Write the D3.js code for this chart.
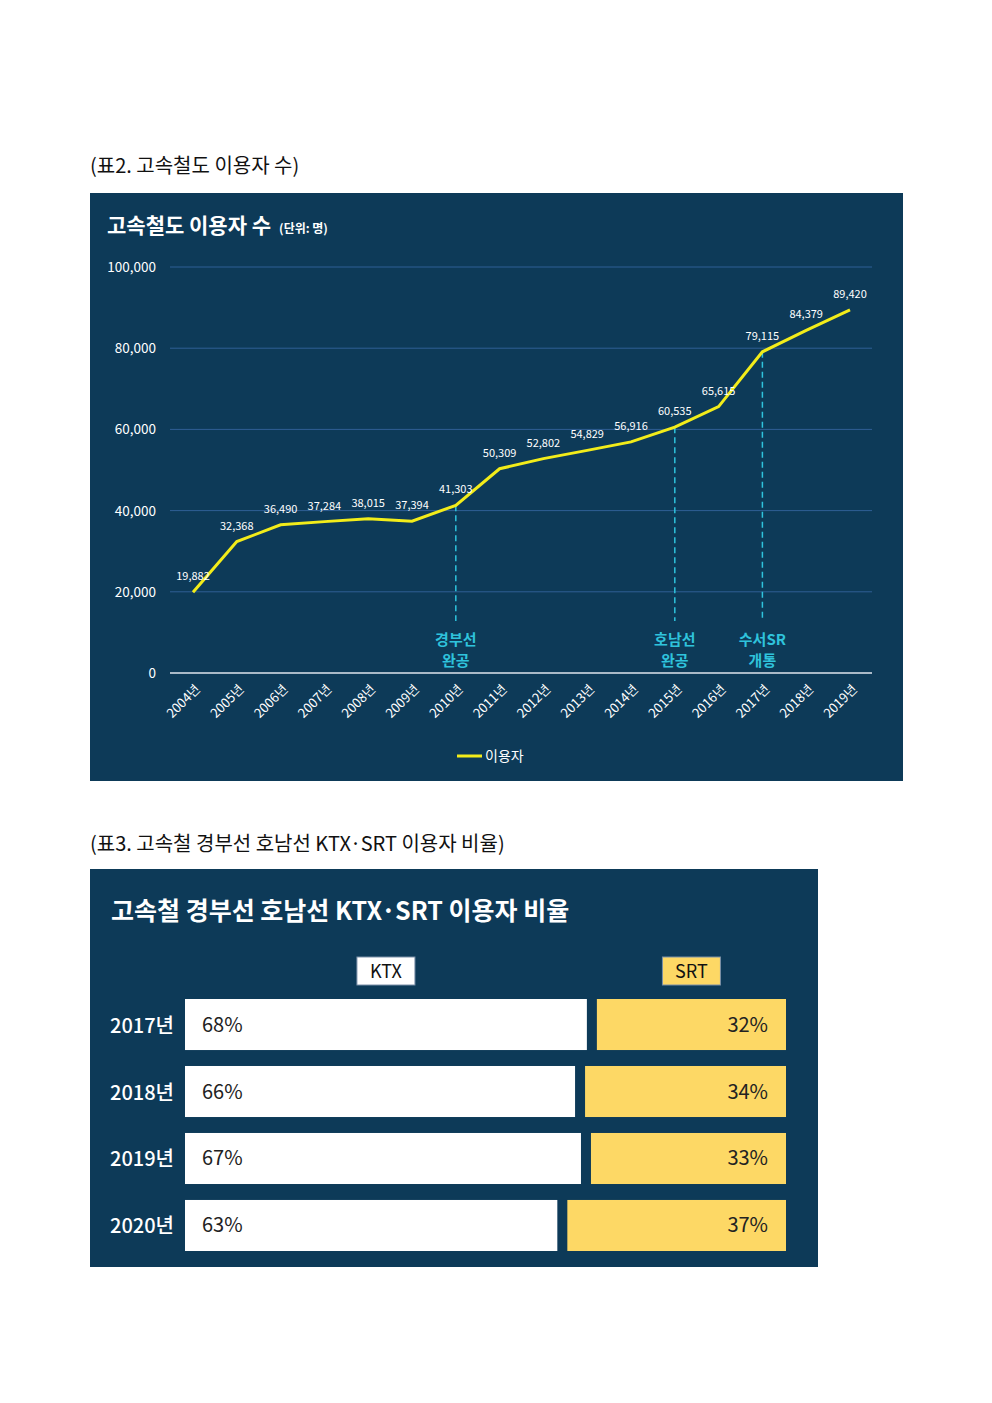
<!DOCTYPE html>
<html><head><meta charset="utf-8">
<script src="https://cdn.jsdelivr.net/npm/d3@7"></script>
<style>body{margin:0;background:#fff}svg{display:block}</style></head>
<body><svg id="c" width="992" height="1403"></svg>
<script>
const years=["2004년","2005년","2006년","2007년","2008년","2009년","2010년","2011년","2012년","2013년","2014년","2015년","2016년","2017년","2018년","2019년"];
const users=[19882,32368,36490,37284,38015,37394,41303,50309,52802,54829,56916,60535,65615,79115,84379,89420];
const yTicks=[0,20000,40000,60000,80000,100000];
const events=[{i:6,t:["경부선","완공"]},{i:11,t:["호남선","완공"]},{i:13,t:["수서SR","개통"]}];
const shareYears=["2017년","2018년","2019년","2020년"];
const ktx=[68,66,67,63];
const srt=[32,34,33,37];

const svg=d3.select("#c");
const F="'Noto Sans CJK KR','Noto Sans',sans-serif";
const BG="#0d3a58";
svg.append("text").attr("x",90).attr("y",173).attr("font-family","'Noto Sans CJK KR'").attr("font-size",20).attr("fill","#111").text("(표2. 고속철도 이용자 수)");
svg.append("rect").attr("x",90).attr("y",193).attr("width",813).attr("height",588).attr("fill",BG);
const t1=svg.append("text").attr("x",107).attr("y",233).attr("font-family",F).attr("font-weight",700).attr("font-size",21).attr("fill","#fff");
t1.append("tspan").text("고속철도 이용자 수");
t1.append("tspan").attr("font-size",12).attr("dx",8).text("(단위: 명)");

const x=d3.scalePoint().domain(years).range([193,850]);
const y=d3.scaleLinear().domain([0,100000]).range([673,267]);
const g=svg.append("g");
yTicks.forEach(v=>{
  g.append("line").attr("x1",170).attr("x2",872).attr("y1",y(v)).attr("y2",y(v)).attr("stroke",v===0?"#dfe6ee":"#2f5f95").attr("stroke-width",v===0?1.5:1);
  g.append("text").attr("x",156).attr("y",y(v)+5).attr("text-anchor","end").attr("font-family",F).attr("font-size",13.5).attr("fill","#fff").text(d3.format(",")(v));
});
years.forEach(d=>{
  g.append("text").attr("transform",`translate(${x(d)+8},${690}) rotate(-45)`).attr("text-anchor","end").attr("font-family",F).attr("font-size",13).attr("fill","#fff").text(d);
});
events.forEach(e=>{
  const xx=x(years[e.i]);
  g.append("line").attr("x1",xx).attr("x2",xx).attr("y1",y(users[e.i])).attr("y2",621).attr("stroke","#2fc3dc").attr("stroke-width",1.5).attr("stroke-dasharray","6,4");
  e.t.forEach((s,k)=>g.append("text").attr("x",xx).attr("y",645+k*21).attr("text-anchor","middle").attr("font-family",F).attr("font-weight",700).attr("font-size",15).attr("fill","#2fc3dc").text(s));
});
g.append("path").datum(users).attr("d",d3.line().x((d,i)=>x(years[i])).y(d=>y(d))).attr("fill","none").attr("stroke","#f2ec1a").attr("stroke-width",3);
users.forEach((v,i)=>{
  g.append("text").attr("x",x(years[i])).attr("y",y(v)-12).attr("text-anchor","middle").attr("font-family",F).attr("font-size",11).attr("fill","#fff").text(d3.format(",")(v));
});
g.append("line").attr("x1",457).attr("x2",482).attr("y1",756).attr("y2",756).attr("stroke","#f2ec1a").attr("stroke-width",3);
g.append("text").attr("x",485).attr("y",761).attr("font-family",F).attr("font-size",14).attr("fill","#fff").text("이용자");

// chart 2
svg.append("text").attr("x",90).attr("y",851).attr("font-family","'Noto Sans CJK KR'").attr("font-size",20).attr("fill","#111").text("(표3. 고속철 경부선 호남선 KTX·SRT 이용자 비율)");
svg.append("rect").attr("x",90).attr("y",869).attr("width",728).attr("height",398).attr("fill",BG);
svg.append("text").attr("x",111).attr("y",920).attr("font-family",F).attr("font-weight",700).attr("font-size",25).attr("fill","#fff").text("고속철 경부선 호남선 KTX·SRT 이용자 비율");
const yb=d3.scaleBand().domain(shareYears).range([999,1251]).paddingInner(15/63).paddingOuter(0);
const w=d3.scaleLinear().domain([0,100]).range([0,591]);
const x0=185,gap=10;
[["KTX",x0+w(ktx[0])/2,"#fff"],["SRT",x0+w(ktx[0])+gap+w(srt[0])/2,"#fdd865"]].forEach(([t,cx,c])=>{
  svg.append("rect").attr("x",cx-29).attr("y",957).attr("width",58).attr("height",28).attr("fill",c).attr("stroke","#7a8fa8");
  svg.append("text").attr("x",cx).attr("y",978).attr("text-anchor","middle").attr("font-family",F).attr("font-size",18).attr("fill","#111").text(t);
});
shareYears.forEach((yr,i)=>{
  const yy=yb(yr),h=yb.bandwidth();
  svg.append("text").attr("x",174).attr("y",yy+h/2+8).attr("text-anchor","end").attr("font-family",F).attr("font-weight",500).attr("font-size",20).attr("fill","#fff").text(yr);
  svg.append("rect").attr("x",x0).attr("y",yy).attr("width",w(ktx[i])).attr("height",h).attr("fill","#fff");
  const sx=x0+w(ktx[i])+gap;
  svg.append("rect").attr("x",sx).attr("y",yy).attr("width",w(srt[i])).attr("height",h).attr("fill","#fdd865");
  svg.append("text").attr("x",202).attr("y",yy+h/2+7).attr("font-family",F).attr("font-size",20).attr("fill","#222").text(ktx[i]+"%");
  svg.append("text").attr("x",768).attr("y",yy+h/2+7).attr("text-anchor","end").attr("font-family",F).attr("font-size",20).attr("fill","#222").text(srt[i]+"%");
});
</script></body></html>
